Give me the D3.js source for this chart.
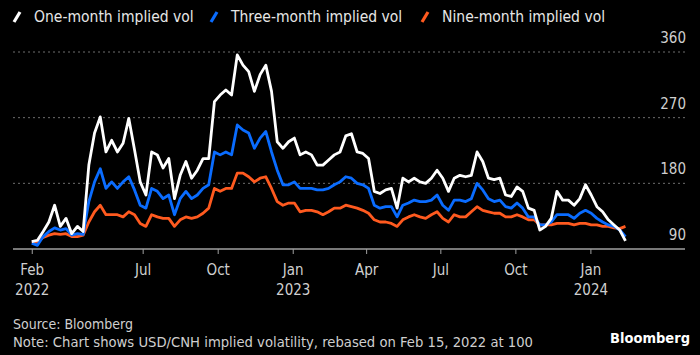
<!DOCTYPE html>
<html>
<head>
<meta charset="utf-8">
<script src="https://cdn.jsdelivr.net/npm/d3@7"></script>
<style>
  html, body { margin: 0; padding: 0; background: #000; }
  svg { display: block; }
  text { font-family: "DejaVu Sans Condensed", "DejaVu Sans", sans-serif; }
</style>
</head>
<body>
<svg id="chart" width="700" height="355"></svg>
<script>
// ---- Data (weekly readings, rebased Feb 15, 2022 = 100) ----
const startDate = "2022-02-15";
const stepDays = 7;
const oneMonth = [100,102,114,127,150,121,132,111,121,114,
  205,249,271,223,239,223,235,269,226,182,
  164,223,219,201,214,159,191,210,187,198,
  214,214,292,301,308,301,356,342,333,306,
  329,342,306,237,228,237,242,219,223,219,
  205,205,212,219,223,245,248,223,221,214,
  169,166,171,173,146,187,182,187,182,180,
  187,198,187,169,187,191,189,191,223,210,
  187,185,187,164,162,175,169,146,143,116,
  121,132,169,157,157,150,159,178,164,148,
  141,130,123,116,101];
const threeMonth = [98,95,107,114,119,116,118,109,111,110,
  155,182,200,173,182,173,182,189,171,150,
  146,173,169,159,164,137,159,169,159,164,
  173,178,223,219,223,219,260,253,249,228,
  242,251,223,198,178,178,182,173,173,173,
  171,171,173,178,182,189,187,180,178,173,
  150,146,148,148,134,150,153,157,155,155,
  157,164,150,143,157,157,155,159,180,171,
  159,155,157,148,146,153,146,134,134,123,
  123,127,137,137,137,132,139,143,139,132,
  127,123,121,116,107];
const nineMonth = [100,99,106,109,111,110,111,107,107,109,
  127,141,150,137,137,137,134,141,137,125,
  121,137,134,132,132,121,130,134,132,134,
  139,146,173,169,173,173,194,194,189,182,
  187,189,173,155,150,153,153,141,143,143,
  141,137,141,146,146,150,148,146,143,139,
  130,127,127,125,121,130,134,137,134,132,
  137,141,132,127,137,134,134,141,148,143,
  141,139,139,134,134,137,134,130,130,123,
  123,123,125,125,125,123,125,125,123,123,
  121,121,119,118,121];
const seriesNames = ["One-month implied vol", "Three-month implied vol", "Nine-month implied vol"];
const seriesColors = ["#ffffff", "#0a6cff", "#ff5a1f"];
const yTicks = [90, 180, 270, 360];
const xTickDates = ["2022-02-15","2022-07-01","2022-10-01","2023-01-01","2023-04-01","2023-07-01","2023-10-01","2024-01-01"];
const xTickLabels = [["Feb","2022"],["Jul",""],["Oct",""],["Jan","2023"],["Apr",""],["Jul",""],["Oct",""],["Jan","2024"]];
const sourceText = "Source: Bloomberg";
const noteText = "Note: Chart shows USD/CNH implied volatility, rebased on Feb 15, 2022 at 100";

// ---- Build ----
const parse = d3.utcParse("%Y-%m-%d");
const t0 = parse(startDate);
const dates = oneMonth.map((_, i) => d3.utcDay.offset(t0, i * stepDays));
const allSeries = [oneMonth, threeMonth, nineMonth];

const svg = d3.select("#chart");
svg.append("rect").attr("width", 700).attr("height", 355).attr("fill", "#000");

const x = d3.scaleUtc().domain([parse("2022-01-23"), parse("2024-04-26")]).range([13, 685]);
const y = d3.scaleLinear().domain([90, 360]).range([249, 52]);

// Grid lines and y labels
const grid = svg.append("g");
grid.selectAll("line").data(yTicks.filter(v => v > 90)).join("line")
  .attr("x1", 13).attr("x2", 685)
  .attr("y1", d => y(d)).attr("y2", d => y(d))
  .attr("stroke", "#6e6e6e").attr("stroke-width", 1)
  .attr("stroke-dasharray", "2,3");
grid.selectAll("text").data(yTicks).join("text")
  .attr("x", 686).attr("y", d => y(d) - 9)
  .attr("text-anchor", "end")
  .attr("fill", "#cfcfcf").attr("font-size", 15)
  .text(d => d);

// Lines (draw nine-month first, one-month on top)
const line = d3.line().x((d, i) => x(dates[i])).y(d => y(d)).curve(d3.curveLinear);
[2, 1, 0].forEach(si => {
  svg.append("path").datum(allSeries[si])
    .attr("d", line)
    .attr("fill", "none")
    .attr("stroke", seriesColors[si])
    .attr("stroke-width", 2.8)
    .attr("stroke-linejoin", "round");
});

// X axis
const xAxis = d3.axisBottom(x)
  .tickValues(xTickDates.map(parse))
  .tickSize(5).tickFormat("");
const ax = svg.append("g").attr("transform", "translate(0,249)").call(xAxis);
ax.select(".domain").attr("stroke", "#a0a0a0").attr("stroke-width", 1.5).attr("d", "M13,0H685");
ax.selectAll(".tick line").attr("stroke", "#a0a0a0");
ax.selectAll(".tick").each(function(d, i) {
  const g = d3.select(this);
  g.append("text").attr("y", 26).attr("text-anchor", "middle")
    .attr("fill", "#cfcfcf").attr("font-size", 15).text(xTickLabels[i][0]);
  if (xTickLabels[i][1]) {
    g.append("text").attr("y", 46).attr("text-anchor", "middle")
      .attr("fill", "#cfcfcf").attr("font-size", 15).text(xTickLabels[i][1]);
  }
});

// Legend
const legendX = [13, 210, 421];
const lg = svg.append("g");
seriesNames.forEach((name, i) => {
  const g = lg.append("g").attr("transform", `translate(${legendX[i]},0)`);
  g.append("line").attr("x1", 1).attr("y1", 22).attr("x2", 7).attr("y2", 12)
    .attr("stroke", seriesColors[i]).attr("stroke-width", 3.2);
  g.append("text").attr("x", 21).attr("y", 22)
    .attr("fill", "#e6e6e6").attr("font-size", 15.5).text(name);
});

// Footer
svg.append("text").attr("x", 13).attr("y", 329).attr("fill", "#cfcfcf").attr("font-size", 14).text(sourceText);
svg.append("text").attr("x", 13).attr("y", 346.5).attr("fill", "#cfcfcf").attr("font-size", 14)
  .attr("textLength", 520).attr("lengthAdjust", "spacingAndGlyphs").text(noteText);
svg.append("text").attr("x", 690).attr("y", 343).attr("text-anchor", "end")
  .attr("fill", "#ffffff").attr("font-size", 14.5).attr("font-weight", "bold")
  .attr("font-family", "Roboto, 'Liberation Sans', sans-serif")
  .text("Bloomberg");
</script>
</body>
</html>
